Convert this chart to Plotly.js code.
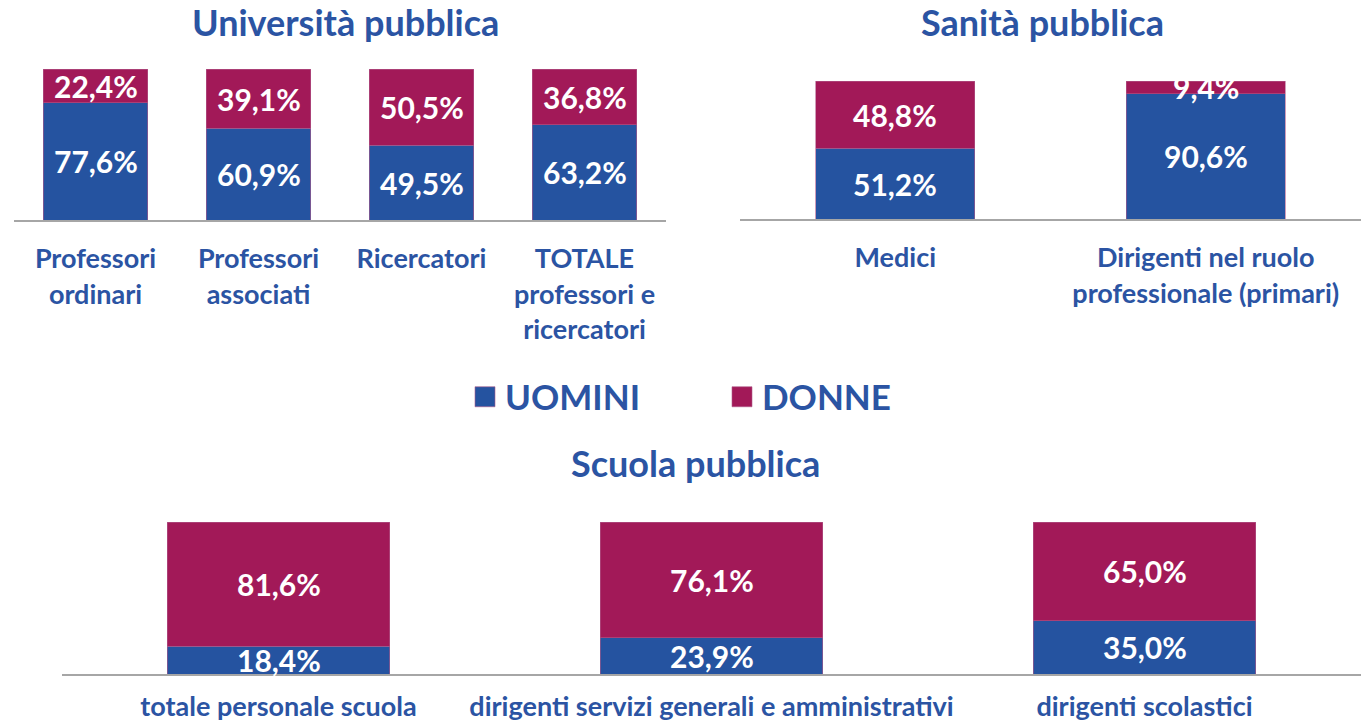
<!DOCTYPE html>
<html>
<head>
<meta charset="utf-8">
<script src="https://cdn.plot.ly/plotly-3.0.1.min.js"></script>
<style>html,body{margin:0;padding:0;background:#fff;}#chart{width:1361px;height:727px;}</style>
</head>
<body>
<div id="chart"></div>
<script>
// ---- data ----
var uniCategories = ["Professori<br>ordinari", "Professori<br>associati", "Ricercatori", "TOTALE<br>professori e<br>ricercatori"];
var uniUomini = [77.6, 60.9, 49.5, 63.2];
var uniDonne = [22.4, 39.1, 50.5, 36.8];

var sanCategories = ["Medici", "Dirigenti nel ruolo<br>professionale (primari)"];
var sanUomini = [51.2, 90.6];
var sanDonne = [48.8, 9.4];

var scuCategories = ["totale personale scuola", "dirigenti servizi generali e amministrativi", "dirigenti scolastici"];
var scuUomini = [18.4, 23.9, 35.0];
var scuDonne = [81.6, 76.1, 65.0];

var seriesNames = ["UOMINI", "DONNE"];
var panelTitles = ["Università pubblica", "Sanità pubblica", "Scuola pubblica"];

// ---- style ----
var BLUE = "#2553A0";
var MAGENTA = "#A21958";
var TXT = "#2B54A3";
var FONT = "Lato, 'Open Sans', sans-serif";

function fmt(v) { return v.toFixed(1).replace(".", ",") + "%"; }

var panels = [
  {cats: uniCategories, u: uniUomini, d: uniDonne, xa: "x", ya: "y", gap: 0.356},
  {cats: sanCategories, u: sanUomini, d: sanDonne, xa: "x2", ya: "y2", gap: 0.489},
  {cats: scuCategories, u: scuUomini, d: scuDonne, xa: "x3", ya: "y3", gap: 0.487}
];

var traces = [];
var annotations = [];
panels.forEach(function (p, i) {
  var w = p.cats.map(function () { return 1 - p.gap; });
  traces.push({type: "bar", x: p.cats, y: p.u, width: w, name: seriesNames[0], xaxis: p.xa, yaxis: p.ya,
    marker: {color: BLUE, line: {color: "#B05A8A", width: 0.6}}, showlegend: i === 0, legendgroup: "u", hoverinfo: "skip"});
  traces.push({type: "bar", x: p.cats, y: p.d, width: w, name: seriesNames[1], xaxis: p.xa, yaxis: p.ya,
    marker: {color: MAGENTA, line: {color: "#B05A8A", width: 0.6}}, showlegend: i === 0, legendgroup: "d", hoverinfo: "skip"});
  p.cats.forEach(function (c, k) {
    annotations.push({xref: p.xa, yref: p.ya, x: c, y: p.u[k] / 2, text: fmt(p.u[k]), showarrow: false,
      font: {family: FONT, size: 30, color: "#fff", weight: 700}});
    annotations.push({xref: p.xa, yref: p.ya, x: c, y: p.u[k] + p.d[k] / 2, text: fmt(p.d[k]), showarrow: false,
      font: {family: FONT, size: 30, color: "#fff", weight: 700}});
  });
});

var titlePos = [[345 / 1361, 1 - 22 / 727], [1042 / 1361, 1 - 22 / 727], [695 / 1361, 1 - 463 / 727]];
panelTitles.forEach(function (t, i) {
  annotations.push({xref: "paper", yref: "paper", x: titlePos[i][0], y: titlePos[i][1], xanchor: "center", yanchor: "middle",
    text: t, showarrow: false, font: {family: FONT, size: 36, color: TXT, weight: 700}});
});

function xax(dom, anchor, size, standoff) {
  return {domain: dom, anchor: anchor, type: "category", showline: true, linecolor: "#A6A6A6", linewidth: 2,
    showgrid: false, zeroline: false, ticks: "", ticklabelstandoff: standoff,
    tickfont: {family: FONT, size: size, color: TXT, weight: 700}, fixedrange: true};
}
function yax(dom, anchor) {
  return {domain: dom, anchor: anchor, range: [0, 100], visible: false, showgrid: false, zeroline: false, fixedrange: true};
}

var layout = {
  width: 1361, height: 727,
  margin: {l: 0, r: 0, t: 0, b: 0},
  paper_bgcolor: "#fff", plot_bgcolor: "#fff",
  barmode: "stack",
  showlegend: true,
  legend: {orientation: "h", x: 465 / 1361, xanchor: "left", y: 1 - 397 / 727, yanchor: "middle",
    font: {family: FONT, size: 35, color: TXT, weight: 700}, entrywidth: 212, traceorder: "normal"},
  xaxis: xax([14 / 1361, 666 / 1361], "y", 27, 14),
  yaxis: yax([1 - 220 / 727, 1 - 69 / 727], "x"),
  xaxis2: xax([740 / 1361, 1], "y2", 27, 14),
  yaxis2: yax([1 - 219 / 727, 1 - 81 / 727], "x2"),
  xaxis3: xax([62 / 1361, 1], "y3", 27, 8),
  yaxis3: yax([1 - 674 / 727, 1 - 522 / 727], "x3"),
  annotations: annotations
};

Plotly.newPlot("chart", traces, layout, {displayModeBar: false, staticPlot: true}).then(function (gd) {
  // enlarge legend swatches to match the reference's square markers
  var paths = gd.querySelectorAll(".legend .legendpoints path");
  paths.forEach(function (p) { p.setAttribute("d", "M10,10H-10V-10H10Z"); });
});
</script>
</body>
</html>
